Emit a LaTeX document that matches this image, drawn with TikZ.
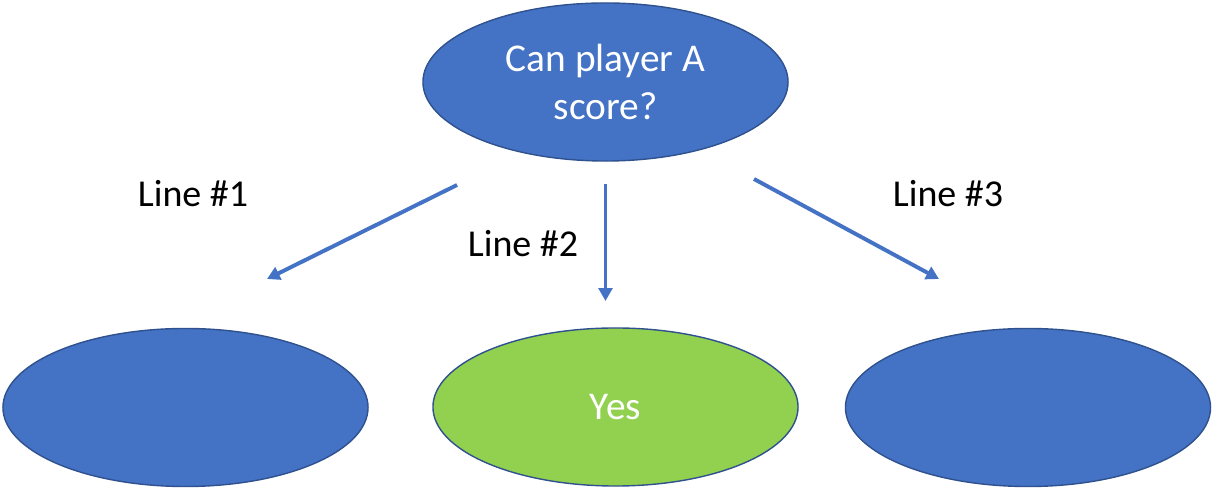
\documentclass[tikz,border=0pt]{standalone}
\usepackage{fontspec}
\setmainfont{Carlito}
\usepackage{tikz}
\usetikzlibrary{arrows.meta,shapes.geometric}
\definecolor{officeblue}{HTML}{4472C4}
\definecolor{officeedge}{HTML}{2F528F}
\definecolor{officegreen}{HTML}{92D050}
\tikzstyle{oval}=[ellipse, draw=officeedge, line width=1pt, fill=officeblue, minimum width=9.125cm, minimum height=3.95cm, inner sep=0pt, text=white, align=center, font=\fontsize{28}{34}\selectfont]
\tikzstyle{arrow}=[draw=officeblue, line width=2.8pt, >={Triangle[length=3.2mm, width=3.4mm]}]
\tikzstyle{linelabel}=[anchor=base, inner sep=0pt, font=\fontsize{27}{33}\selectfont]

\begin{document}
\begin{tikzpicture}[x=0.025cm, y=-0.025cm]
		   \useasboundingbox (0, 0) rectangle (1212, 490);
		   \begin{scope}
			   \node (0) at (605.5, 82)[oval] {Can player A\\score?};
			   \node (1) at (185.5, 407.5)[oval] {};
			   \node (2) at (615.5, 407)[oval, fill=officegreen] {Yes};
			   \node (3) at (1028, 407.5)[oval] {};
		   \end{scope}
		   \begin{scope}
			   \coordinate (s1) at (457, 185);
			   \coordinate (e1) at (267, 279);
			   \coordinate (s2) at (605.5, 184);
			   \coordinate (e2) at (605.5, 301);
			   \coordinate (s3) at (754, 179);
			   \coordinate (e3) at (939, 279);

			   \path [->] (s1) edge[arrow] (e1);
			   \path [->] (s2) edge[arrow] (e2);
			   \path [->] (s3) edge[arrow] (e3);

			   \node (l1) at (193, 207)[linelabel] {Line \#1};
			   \node (l2) at (523, 257)[linelabel] {Line \#2};
			   \node (l3) at (948, 207)[linelabel] {Line \#3};
		   \end{scope}
	   \end{tikzpicture}
\end{document}
